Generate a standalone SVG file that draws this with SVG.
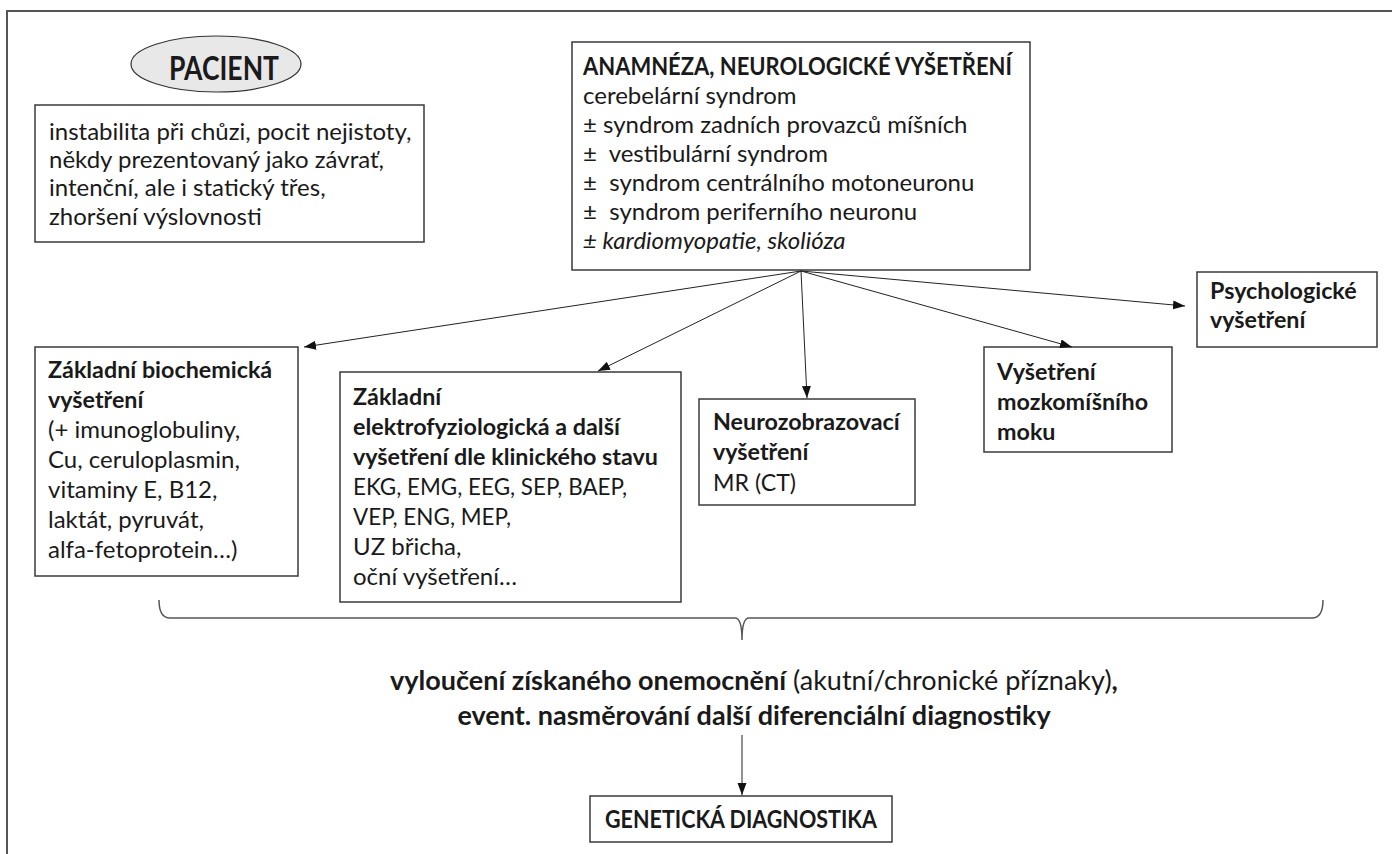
<svg xmlns="http://www.w3.org/2000/svg" width="1392" height="854" viewBox="0 0 1392 854">
<defs>
<marker id="ah" markerWidth="13" markerHeight="10" refX="12" refY="4.5" orient="auto" markerUnits="userSpaceOnUse">
<path d="M0,0 L12,4.5 L0,9 z" fill="#111"/>
</marker>
<style>
.box{fill:#fff;stroke:#3a3a3a;stroke-width:1.5}
.t{font-family:Lato,"Liberation Sans",sans-serif;font-size:24px;fill:#1a1a1a}
.b{font-weight:bold;font-size:23.3px}
.i{font-style:italic}
.c{stroke:#222;stroke-width:1;fill:none;marker-end:url(#ah)}
</style>
</defs>
<rect width="1392" height="854" fill="#fff"/>
<path d="M7,854 L7,11 L1392,11" fill="none" stroke="#555" stroke-width="2"/>

<g id="pacient">
<ellipse cx="216" cy="64" rx="85" ry="28" fill="#e8e8e8" stroke="#333" stroke-width="1.2"/>
<text class="t b" x="224" y="80" style="font-size:32px" text-anchor="middle" textLength="110" lengthAdjust="spacingAndGlyphs">PACIENT</text>
</g>

<g id="symptomy">
<rect class="box" x="35" y="105" width="389" height="137"/>
<text class="t" x="49" y="140">instabilita při chůzi, pocit nejistoty,</text>
<text class="t" x="49" y="168">někdy prezentovaný jako závrať,</text>
<text class="t" x="49" y="196">intenční, ale i statický třes,</text>
<text class="t" x="49" y="225">zhoršení výslovnosti</text>
</g>

<g id="anamneza">
<rect class="box" x="572" y="42" width="458" height="228"/>
<text class="t b" x="583" y="75" style="font-size:24px" textLength="429" lengthAdjust="spacingAndGlyphs">ANAMNÉZA, NEUROLOGICKÉ VYŠETŘENÍ</text>
<text class="t" x="583" y="104">cerebelární syndrom</text>
<text class="t" x="583" y="133" xml:space="preserve">± syndrom zadních provazců míšních</text>
<text class="t" x="583" y="162" xml:space="preserve">±  vestibulární syndrom</text>
<text class="t" x="583" y="191" xml:space="preserve">±  syndrom centrálního motoneuronu</text>
<text class="t" x="583" y="220" xml:space="preserve">±  syndrom periferního neuronu</text>
<text class="t i" x="583" y="249">± kardiomyopatie, skolióza</text>
</g>

<g id="biochem">
<rect class="box" x="35" y="347" width="263" height="229"/>
<text class="t b" x="48" y="378">Základní biochemická</text>
<text class="t b" x="48" y="408">vyšetření</text>
<text class="t" x="48" y="438">(+ imunoglobuliny,</text>
<text class="t" x="48" y="468">Cu, ceruloplasmin,</text>
<text class="t" x="48" y="498">vitaminy E, B12,</text>
<text class="t" x="48" y="528">laktát, pyruvát,</text>
<text class="t" x="48" y="558">alfa-fetoprotein…)</text>
</g>

<g id="elektro">
<rect class="box" x="340" y="372" width="341" height="230"/>
<text class="t b" x="353" y="405">Základní</text>
<text class="t b" x="353" y="435">elektrofyziologická a další</text>
<text class="t b" x="353" y="465">vyšetření dle klinického stavu</text>
<text class="t" x="353" y="495" textLength="274" lengthAdjust="spacingAndGlyphs">EKG, EMG, EEG, SEP, BAEP,</text>
<text class="t" x="353" y="525" textLength="158" lengthAdjust="spacingAndGlyphs">VEP, ENG, MEP,</text>
<text class="t" x="353" y="555">UZ břicha,</text>
<text class="t" x="353" y="585">oční vyšetření…</text>
</g>

<g id="neuro">
<rect class="box" x="699" y="399" width="216" height="106"/>
<text class="t b" x="713" y="430">Neurozobrazovací</text>
<text class="t b" x="713" y="460">vyšetření</text>
<text class="t" x="713" y="491" textLength="83" lengthAdjust="spacingAndGlyphs">MR (CT)</text>
</g>

<g id="likvor">
<rect class="box" x="984" y="347" width="188" height="105"/>
<text class="t b" x="997" y="380">Vyšetření</text>
<text class="t b" x="997" y="410">mozkomíšního</text>
<text class="t b" x="997" y="440">moku</text>
</g>

<g id="psych">
<rect class="box" x="1197" y="272" width="180" height="75"/>
<text class="t b" x="1210" y="299">Psychologické</text>
<text class="t b" x="1210" y="328">vyšetření</text>
</g>

<g id="zaver">
<text class="t" x="754" y="690" style="font-size:27px" text-anchor="middle"><tspan font-weight="bold">vyloučení získaného onemocnění</tspan> (akutní/chronické příznaky)<tspan font-weight="bold">,</tspan></text>
<text class="t" x="754" y="725" style="font-size:27px;font-weight:bold" text-anchor="middle">event. nasměrování další diferenciální diagnostiky</text>
</g>

<g id="geneticka">
<rect class="box" x="590" y="796" width="302" height="46"/>
<text class="t b" x="741" y="828" style="font-size:24px" text-anchor="middle" textLength="272" lengthAdjust="spacingAndGlyphs">GENETICKÁ DIAGNOSTIKA</text>
</g>

<g id="connectors">
<line class="c" x1="801" y1="271" x2="304" y2="347"/>
<line class="c" x1="801" y1="271" x2="598" y2="371"/>
<line class="c" x1="801" y1="271" x2="807" y2="398"/>
<line class="c" x1="801" y1="271" x2="1072" y2="347"/>
<line class="c" x1="801" y1="271" x2="1185" y2="306"/>
<path d="M159,600 Q159,618 170,618 L735,618 Q742,618 742,640 Q742,618 749,618 L1312,618 Q1323,618 1323,600" fill="none" stroke="#555" stroke-width="1.5"/>
<line class="c" x1="742" y1="735" x2="742" y2="795" stroke-width="1.5"/>
</g>
</svg>
